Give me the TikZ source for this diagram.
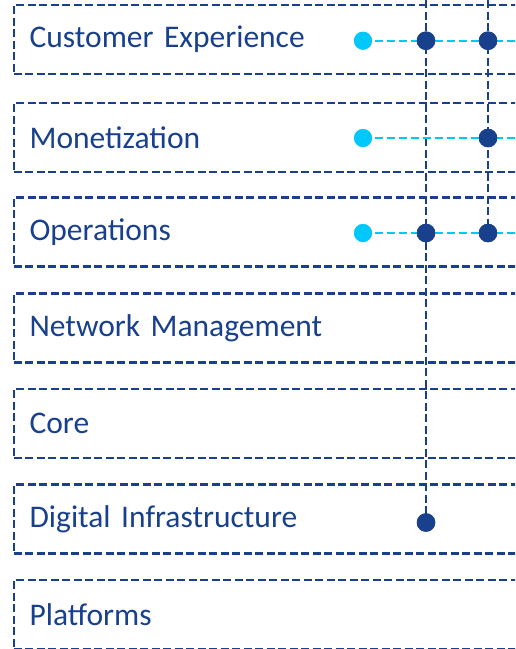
\documentclass[tikz,border=0pt]{standalone}
\usepackage{fontspec}
\setmainfont{Carlito}
\definecolor{navy}{RGB}{24,64,140}
\definecolor{skyblue}{RGB}{0,200,250}
\begin{document}
\begin{tikzpicture}
  [x=1pt,y=-1pt,
   every node/.style={inner sep=0pt},
   layer/.style={draw=navy,line width=2.2pt,dash pattern=on 8pt off 3.5pt,
     minimum width=540pt,minimum height=69pt,text width=508pt,inner xsep=16pt,
     anchor=west,align=left,text=navy,font=\fontsize{31.5}{36}\selectfont},
   src/.style={circle,fill=skyblue,minimum size=18pt},
   hub/.style={circle,fill=navy,minimum size=18.5pt},
   link/.style={draw=skyblue,line width=2.3pt,dash pattern=on 8pt off 4pt},
   spine/.style={draw=navy,line width=2.2pt,dash pattern=on 8pt off 3.5pt}]
  \clip (0,0) rectangle (515,649);
  \node[layer] (cx) at (12.5,39.5) {Customer Experience};
  \node[layer] (mon) at (12.5,137.5) {Monetization};
  \node[layer] (ops) at (12.5,232) {Operations};
  \node[layer] (nm) at (12.5,328) {Network Management};
  \node[layer] (core) at (12.5,423.5) {Core};
  \node[layer] (di) at (12.5,519) {Digital Infrastructure};
  \node[layer] (plat) at (12.5,614.5) {Platforms};
  \coordinate (topA) at (426,0);
  \coordinate (topB) at (488,0);
  \coordinate (endcx) at (515,40.7);
  \coordinate (endmon) at (515,138);
  \coordinate (endops) at (515,233);
  \node[src] (scx) at (363,40.7) {};
  \node[src] (smon) at (363,138) {};
  \node[src] (sops) at (363,233) {};
  \node[hub] (acx) at (426,40.7) {};
  \node[hub] (aops) at (426,233) {};
  \node[hub] (adi) at (426,522.5) {};
  \node[hub] (bcx) at (488,40.7) {};
  \node[hub] (bmon) at (488,138) {};
  \node[hub] (bops) at (488,233) {};
  \draw[spine] (topA) -- (adi.center);
  \draw[spine] (topB) -- (bops.center);
  \foreach \from/\to in {scx/endcx,smon/endmon,sops/endops}
    \draw[link] (\from.center) -- (\to);
  % dots on top of the lines
  \foreach \n in {scx,smon,sops}
    \fill[skyblue] (\n) circle (9pt);
  \foreach \n in {acx,aops,adi,bcx,bmon,bops}
    \fill[navy] (\n) circle (9.25pt);
\end{tikzpicture}
\end{document}
